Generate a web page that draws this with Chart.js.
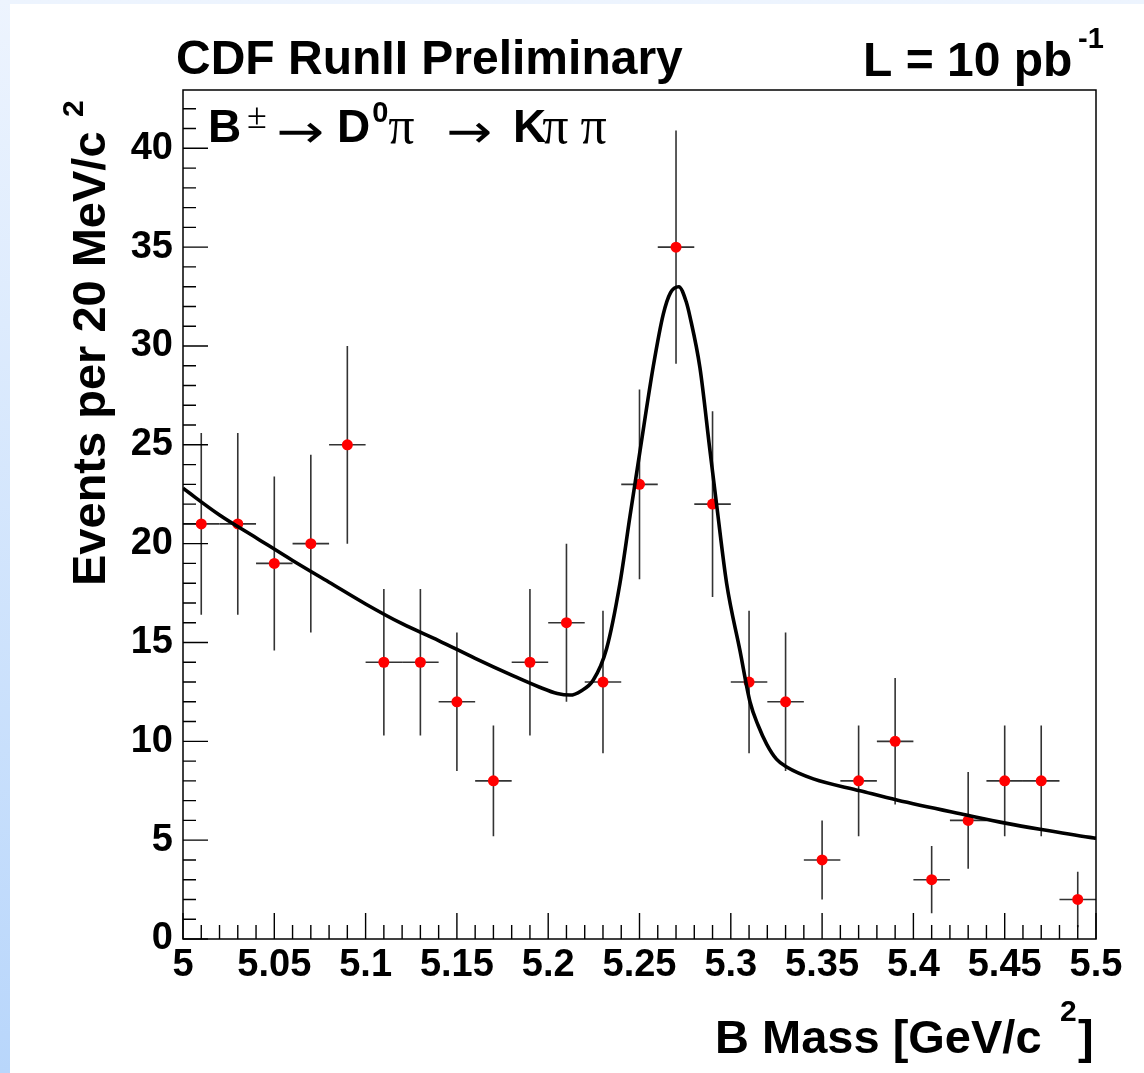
<!DOCTYPE html>
<html>
<head>
<meta charset="utf-8">
<script src="https://cdn.jsdelivr.net/npm/chart.js@4.4.0/dist/chart.umd.min.js"></script>
<style>
    html, body { margin: 0; padding: 0; width: 1144px; height: 1073px; overflow: hidden; background: linear-gradient(#edf4fe, #b8d6fb); }
    #panel { position: absolute; left: 10px; top: 4px; width: 1134px; height: 1069px; background: #fff; }
    #wrap { position: absolute; left: 0; top: 0; width: 1144px; height: 1073px; }
</style>
</head>
<body>
<div id="panel"></div>
<div id="wrap"><canvas id="chart" width="1144" height="1073"></canvas></div>
<script>
// histogram: bin centres (GeV/c^2), counts per 20 MeV bin and their errors
const binCenters = [5.01, 5.03, 5.05, 5.07, 5.09, 5.11, 5.13, 5.15, 5.17, 5.19, 5.21, 5.23, 5.25,
                    5.27, 5.29, 5.31, 5.33, 5.35, 5.37, 5.39, 5.41, 5.43, 5.45, 5.47, 5.49];
const counts = [21, 21, 19, 20, 25, 14, 14, 12, 8, 14, 16, 13, 23,
                35, 22, 13, 12, 4, 8, 10, 3, 6, 8, 8, 2];
const errors = [4.6, 4.6, 4.4, 4.5, 5.0, 3.7, 3.7, 3.5, 2.8, 3.7, 4.0, 3.6, 4.8,
                5.9, 4.7, 3.6, 3.5, 2.0, 2.8, 3.2, 1.7, 2.45, 2.8, 2.8, 1.4];
const halfBin = 0.01;

// fit curve
const curveX = [5.000, 5.020, 5.040, 5.060, 5.080, 5.100, 5.120, 5.140, 5.160, 5.180, 5.195, 5.205,
                5.212, 5.218, 5.2247, 5.232, 5.2393, 5.2448, 5.2503, 5.2576, 5.263, 5.267, 5.2715,
                5.2757, 5.2776, 5.2831, 5.2886, 5.2922, 5.2977, 5.305, 5.3105, 5.315, 5.3197, 5.325,
                5.3306, 5.3452, 5.3708, 5.3909, 5.429, 5.4511, 5.4693, 5.4967, 5.500];
const curveY = [22.8, 21.45, 20.3, 19.15, 18.05, 16.95, 15.95, 15.1, 14.2, 13.35, 12.75, 12.42,
                12.34, 12.55, 13.1, 14.7, 18.0, 21.4, 24.7, 29.0, 31.6, 32.7, 33.0,
                32.2, 31.5, 28.9, 24.7, 22.0, 18.0, 14.6, 12.0, 10.8, 9.85, 9.1,
                8.7, 8.1, 7.5, 7.03, 6.27, 5.85, 5.55, 5.14, 5.1];

// axes
const xTickValues = [5, 5.05, 5.1, 5.15, 5.2, 5.25, 5.3, 5.35, 5.4, 5.45, 5.5];
const xTickLabels = ['5', '5.05', '5.1', '5.15', '5.2', '5.25', '5.3', '5.35', '5.4', '5.45', '5.5'];
const yTickValues = [0, 5, 10, 15, 20, 25, 30, 35, 40];
const yTickLabels = ['0', '5', '10', '15', '20', '25', '30', '35', '40'];
const xRange = [5, 5.5];
const yRange = [0, 42.95];
const xMinorStep = 0.01;
const yMinorStep = 1;

const SANS = '"Liberation Sans", Arial, Helvetica, sans-serif';
const SERIF = '"Liberation Serif", "Times New Roman", serif';

// error bars drawn under the markers
const errorBars = {
    id: 'errorBars',
    beforeDatasetsDraw(chart) {
        const { ctx, scales: { x, y } } = chart;
        ctx.save();
        ctx.strokeStyle = '#333';
        ctx.lineWidth = 1.6;
        binCenters.forEach((m, i) => {
            const px = x.getPixelForValue(m);
            const py = y.getPixelForValue(counts[i]);
            ctx.beginPath();
            ctx.moveTo(x.getPixelForValue(m - halfBin), py);
            ctx.lineTo(x.getPixelForValue(m + halfBin), py);
            ctx.moveTo(px, y.getPixelForValue(Math.max(0, counts[i] - errors[i])));
            ctx.lineTo(px, y.getPixelForValue(counts[i] + errors[i]));
            ctx.stroke();
        });
        ctx.restore();
    }
};

// ROOT style frame with inward ticks, plus the texts
const frameAndText = {
    id: 'frameAndText',
    afterDraw(chart) {
        const { ctx, chartArea: a, scales: { x, y } } = chart;
        ctx.save();
        ctx.strokeStyle = '#000';
        ctx.lineWidth = 1.5;
        ctx.strokeRect(a.left, a.top, a.right - a.left, a.bottom - a.top);

        ctx.lineWidth = 1.4;
        ctx.beginPath();
        for (let i = 0; xRange[0] + i * xMinorStep <= xRange[1] + 1e-9; i++) {
            const px = x.getPixelForValue(xRange[0] + i * xMinorStep);
            const len = i % 5 === 0 ? 26 : 14;
            ctx.moveTo(px, a.bottom);
            ctx.lineTo(px, a.bottom - len);
        }
        for (let i = 0; i * yMinorStep <= yRange[1]; i++) {
            const py = y.getPixelForValue(i * yMinorStep);
            const len = i % 5 === 0 ? 25 : 13;
            ctx.moveTo(a.left, py);
            ctx.lineTo(a.left + len, py);
        }
        ctx.stroke();

        ctx.fillStyle = '#000';
        ctx.textBaseline = 'alphabetic';
        ctx.textAlign = 'left';

        // header
        ctx.font = `bold 48px ${SANS}`;
        ctx.fillText('CDF RunII Preliminary', 176, 74);
        ctx.fillText('L = 10 pb', 863, 76);
        ctx.font = `bold 29px ${SANS}`;
        ctx.fillText('-1', 1078, 48);

        // decay label
        const bold = `bold 46px ${SANS}`;
        const pi = `52px ${SERIF}`;
        const put = (t, font, x0, base) => {
            ctx.font = font;
            ctx.fillText(t, x0, base);
            return x0 + ctx.measureText(t).width;
        };
        const arrow = (x0, w) => {
            ctx.save();
            ctx.font = `44px "DejaVu Sans", ${SERIF}`;
            const m = ctx.measureText('\u2192').width;
            ctx.translate(x0, 147);
            ctx.scale(w / m, 1.05);
            ctx.fillText('\u2192', 0, 0);
            ctx.restore();
        };
        put('B', bold, 208, 142);
        put('\u00b1', `36px ${SERIF}`, 247, 128);
        arrow(276, 48);
        let cx = put('D', bold, 337, 142);
        cx = put('0', `bold 29px ${SANS}`, cx + 2, 122);
        put('\u03c0', pi, cx, 143);
        arrow(446, 46);
        cx = put('K', bold, 513, 142);
        cx = put('\u03c0', pi, cx - 4, 143);
        put('\u03c0', pi, cx + 12, 143);

        // x axis title
        ctx.font = `bold 47px ${SANS}`;
        ctx.fillText('B Mass [GeV/c', 715, 1053);
        ctx.fillText(']', 1078, 1053);
        ctx.font = `bold 30px ${SANS}`;
        ctx.fillText('2', 1060, 1021);

        // y axis title
        ctx.save();
        ctx.translate(105, 586);
        ctx.rotate(-Math.PI / 2);
        ctx.font = `bold 47px ${SANS}`;
        ctx.fillText('Events per 20 MeV/c', 0, 0);
        ctx.font = `bold 30px ${SANS}`;
        ctx.fillText('2', 469, -22);
        ctx.restore();

        ctx.restore();
    }
};

const tickFont = { family: SANS, size: 38, weight: 'bold' };

new Chart(document.getElementById('chart'), {
    type: 'scatter',
    data: {
        datasets: [{
            label: 'fit',
            data: curveX.map((v, i) => ({ x: v, y: curveY[i] })),
            showLine: true,
            borderColor: '#000',
            borderWidth: 3.6,
            pointRadius: 0,
            cubicInterpolationMode: 'monotone',
            order: 0
        }, {
            label: 'data',
            data: binCenters.map((v, i) => ({ x: v, y: counts[i] })),
            backgroundColor: '#ff0000',
            borderWidth: 0,
            pointRadius: 5.5,
            order: 1
        }]
    },
    options: {
        responsive: false,
        animation: false,
        layout: { padding: { left: 10, top: 90, right: 48, bottom: 0 } },
        plugins: { legend: { display: false }, tooltip: { enabled: false } },
        scales: {
            x: {
                type: 'linear',
                min: xRange[0],
                max: xRange[1],
                grid: { display: false, drawTicks: false },
                border: { display: false },
                afterBuildTicks: s => { s.ticks = xTickValues.map(v => ({ value: v })); },
                afterFit: s => { s.height = 134; },
                ticks: {
                    autoSkip: false, maxRotation: 0, padding: 4, color: '#000', font: tickFont,
                    callback: (v, i) => xTickLabels[i]
                }
            },
            y: {
                type: 'linear',
                min: yRange[0],
                max: yRange[1],
                grid: { display: false, drawTicks: false },
                border: { display: false },
                afterBuildTicks: s => { s.ticks = yTickValues.map(v => ({ value: v })); },
                afterFit: s => { s.width = 173; },
                ticks: {
                    autoSkip: false, padding: 10, color: '#000', font: tickFont,
                    callback: (v, i) => yTickLabels[i]
                }
            }
        }
    },
    plugins: [errorBars, frameAndText]
});
</script>
</body>
</html>
